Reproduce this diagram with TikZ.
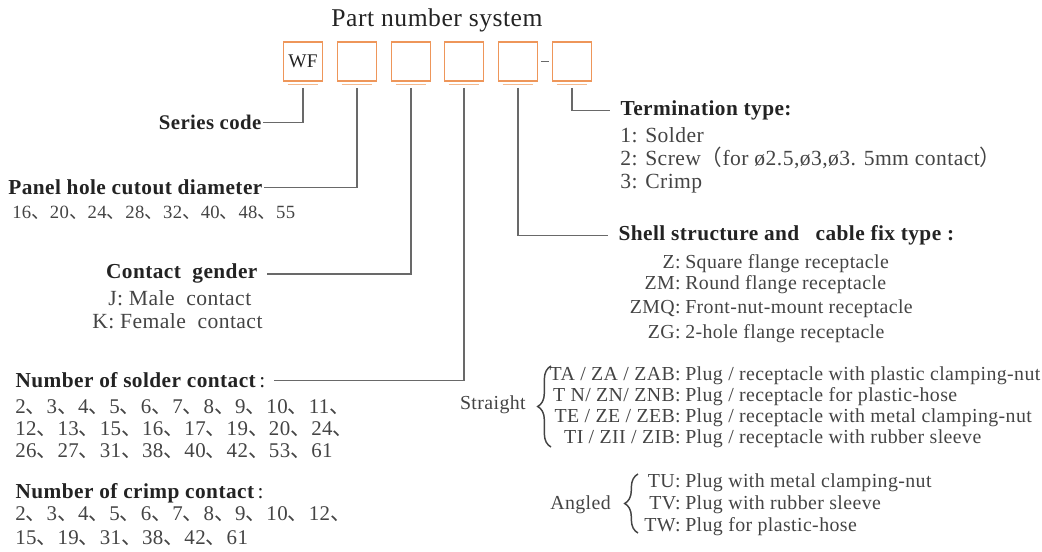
\documentclass[tikz,border=0pt]{standalone}
\usepackage{fontspec}
\setmainfont{Liberation Serif}[LetterSpace=2]
\newfontfamily\cjk{Noto Sans CJK SC}
\usetikzlibrary{decorations.pathreplacing}
\definecolor{naranjita}{RGB}{238,150,90}
\definecolor{naranjaclaro}{RGB}{245,185,140}
\definecolor{grisito}{RGB}{105,105,105}
\definecolor{tinta}{RGB}{35,35,35}
\newcommand{\dun}{{\cjk 、}}
\newcommand{\dos}{\,{\mdseries :}}
\tikzset{
  caja/.style={draw=naranjita, line width=1.1pt, minimum width=29.3pt, minimum height=29.3pt, inner sep=0pt, text=tinta, font=\fontsize{14.5}{16}\selectfont},
  raya/.style={draw=naranjaclaro, line width=1pt},
  guia/.style={draw=grisito, line width=0.9pt},
  cabeza/.style={inner sep=1pt, text=tinta, font=\bfseries\fontsize{16}{18}\selectfont},
  texto/.style={inner sep=0pt, text=tinta!85, font=\fontsize{16.2}{18}\selectfont},
  numeros/.style={inner sep=0pt, text=tinta!85, font=\fontsize{15.7}{18}\selectfont},
  item/.style={inner sep=0pt, text=tinta!85, font=\fontsize{14.9}{17}\selectfont},
  llave/.style={draw=tinta!85, line width=1.1pt, decorate, decoration={brace, amplitude=10pt}}
}

\begin{document}
\begin{tikzpicture}[x=0.75pt, y=-0.75pt]
	\useasboundingbox (0,0) rectangle (1042,552);

	\node[text=tinta, font=\fontsize{19.2}{21}\selectfont] (titulo) at (437,20) {Part number system};

	% code boxes
	\node[caja] (b1) at (303,61.5) {WF};
	\foreach \i/\x in {2/357,3/411,4/464,5/518,6/572}
		\node[caja] (b\i) at (\x,61.5) {};
	\foreach \i in {1,...,6}
		\draw[raya] ([shift={(5,3)}]b\i.south west) -- ([shift={(-5,3)}]b\i.south east);
	\draw[guia] ([xshift=2pt]b5.east) -- ([xshift=-2pt]b6.west);

	% left side
	\node[cabeza, font=\bfseries\fontsize{15.6}{18}\selectfont, anchor=base east] (series) at (263,130) {Series code};
	\node[cabeza, anchor=base east] (panel) at (264,194.8) {Panel hole cutout diameter};
	\node[numeros, font=\fontsize{14}{16}\selectfont, anchor=base west] (panelnum) at (12,219) {16\dun 20\dun 24\dun 28\dun 32\dun 40\dun 48\dun 55};

	\node[cabeza, anchor=base east] (gender) at (259,279) {Contact~ gender};
	\node[texto, anchor=base west] (male) at (108,305.6) {J: Male~ contact};
	\node[texto, anchor=base west] (female) at (92,328.6) {K: Female~ contact};

	\node[cabeza, anchor=base west] (solder) at (14,387.8) {Number of solder contact\dos};
	\node[numeros, anchor=base west] (sold1) at (15,413.6) {2\dun 3\dun 4\dun 5\dun 6\dun 7\dun 8\dun 9\dun 10\dun 11\dun};
	\node[numeros, anchor=base west] (sold2) at (15,435.6) {12\dun 13\dun 15\dun 16\dun 17\dun 19\dun 20\dun 24\dun};
	\node[numeros, anchor=base west] (sold3) at (15,457.6) {26\dun 27\dun 31\dun 38\dun 40\dun 42\dun 53\dun 61};

	\node[cabeza, anchor=base west] (crimp) at (14,498.6) {Number of crimp contact\dos};
	\node[numeros, anchor=base west] (crimp1) at (15,520.6) {2\dun 3\dun 4\dun 5\dun 6\dun 7\dun 8\dun 9\dun 10\dun 12\dun};
	\node[numeros, anchor=base west] (crimp2) at (15,544.6) {15\dun 19\dun 31\dun 38\dun 42\dun 61};

	% right side
	\node[cabeza, anchor=base west] (term) at (619,116) {Termination type:};
	\node[texto, anchor=base west] (term1) at (620,142.6) {1: Solder};
	\node[texto, anchor=base west] (term2) at (620,165.6) {2: Screw{\cjk （}for ø2.5,ø3,ø3. 5mm contact{\cjk ）}};
	\node[texto, anchor=base west] (term3) at (620,188.6) {3: Crimp};

	\node[cabeza, anchor=base west] (shell) at (617,241) {Shell structure and\enspace\ cable fix type :};
	\foreach \y/\c/\d [count=\k] in {268/Z/{Square flange receptacle}, 290/ZM/{Round flange receptacle},
			314/ZMQ/{Front-nut-mount receptacle}, 338/ZG/{2-hole flange receptacle}} {
		\node[item, anchor=base east] (shc\k) at (681,\y) {\c:};
		\node[item, anchor=base west] (shd\k) at (685,\y) {\d};
	}

	\node[item, anchor=base east] (recto) at (526,409) {Straight};
	\draw[llave] (551,447) -- (551,366);
	\foreach \y/\c/\d [count=\k] in {380/{TA / ZA / ZAB}/{Plug / receptacle with plastic clamping-nut},
			401/{T N/ ZN/ ZNB}/{Plug / receptacle for plastic-hose},
			422/{TE / ZE / ZEB}/{Plug / receptacle with metal clamping-nut},
			443/{TI / ZII / ZIB}/{Plug / receptacle with rubber sleeve}} {
		\node[item, anchor=base east] (stc\k) at (681,\y) {\c:};
		\node[item, anchor=base west] (std\k) at (685,\y) {\d};
	}

	\node[item, anchor=base east] (angulo) at (611,509) {Angled};
	\draw[llave] (638,533) -- (638,474);
	\foreach \y/\c/\d [count=\k] in {487/TU/{Plug with metal clamping-nut}, 509/TV/{Plug with rubber sleeve},
			531/TW/{Plug for plastic-hose}} {
		\node[item, anchor=base east] (anc\k) at (681,\y) {\c:};
		\node[item, anchor=base west] (and\k) at (685,\y) {\d};
	}

	% leads
	\draw[guia] ([yshift=-4.5pt]b1.south) |- (series.east);
	\draw[guia] ([yshift=-4.5pt]b2.south) |- (panel.east);
	\draw[guia, shorten >=6pt] ([yshift=-4.5pt]b3.south) |- (gender.east);
	\draw[guia, shorten >=5pt] ([yshift=-4.5pt]b4.south) |- (solder.east);
	\draw[guia, shorten >=7pt] ([yshift=-4.5pt]b5.south) |- (shell.west);
	\draw[guia, shorten >=7pt] ([yshift=-4.5pt]b6.south) |- (term.west);

\end{tikzpicture}
\end{document}
